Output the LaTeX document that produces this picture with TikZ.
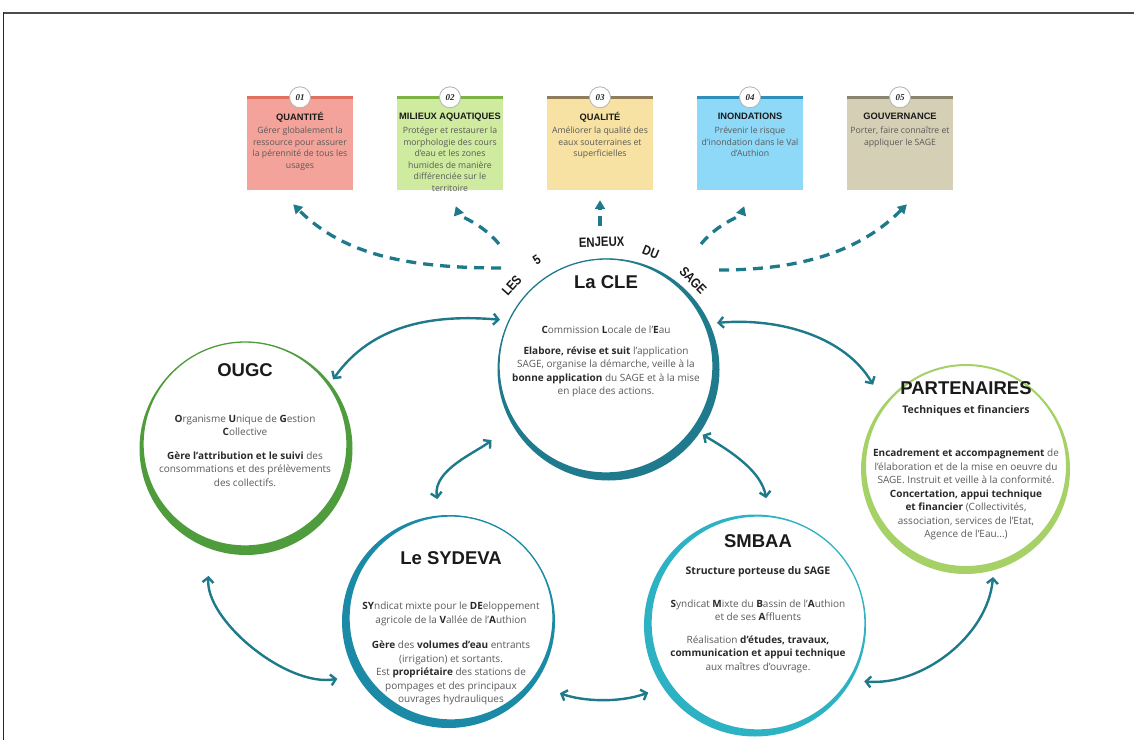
\documentclass[tikz,border=0pt]{standalone}
\usepackage{fontspec}
\setmainfont{Open Sans}
\newfontfamily\ttlfont{Liberation Sans}
\newfontfamily\numfont{Liberation Serif}
\usetikzlibrary{arrows.meta,calc}
\definecolor{clec}{HTML}{1E7A8C}
\definecolor{ougcc}{HTML}{4E9C3B}
\definecolor{partc}{HTML}{A6D167}
\definecolor{sydc}{HTML}{1B8AA6}
\definecolor{smbc}{HTML}{2DB2C4}
\definecolor{arrc}{HTML}{1E7A8A}
\definecolor{txtgray}{HTML}{5A5A5A}
\definecolor{txtdark}{HTML}{2A2A2A}
\definecolor{ttlc}{HTML}{1A1A1A}
\definecolor{q1f}{HTML}{F4A39A}\definecolor{q1s}{HTML}{E2705F}
\definecolor{q2f}{HTML}{CFEBA0}\definecolor{q2s}{HTML}{7CB342}
\definecolor{q3f}{HTML}{F7E2A3}\definecolor{q3s}{HTML}{8E7C5C}
\definecolor{q4f}{HTML}{8FD9F8}\definecolor{q4s}{HTML}{2F8FB8}
\definecolor{q5f}{HTML}{D5CFB5}\definecolor{q5s}{HTML}{8A836E}
\newcommand\bx[1]{{\bfseries\color{txtdark}#1}}
\begin{document}
\begin{tikzpicture}[x=1pt,y=1pt,
  qbox/.style={rectangle, inner sep=0, minimum width=106pt, minimum height=91pt},
  numc/.style={circle, draw=black!30, line width=0.8pt, fill=white, minimum size=21pt, inner sep=0, font=\numfont\bfseries\itshape\fontsize{9}{9}\selectfont, text=txtdark},
  boxttl/.style={inner sep=0, font=\ttlfont\bfseries\fontsize{9.3}{10}\selectfont, text=ttlc},
  boxtxt/.style={inner sep=0, align=center, font=\fontsize{8.7}{11.5}\selectfont, text=txtgray},
  ttl/.style={inner sep=0, font=\ttlfont\bfseries\fontsize{18.5}{20}\selectfont, text=ttlc},
  subttl/.style={inner sep=0, font=\bfseries\fontsize{10.5}{12}\selectfont, text=txtdark},
  bodytxt/.style={inner sep=0, align=center, font=\fontsize{10}{13.5}\selectfont, text=txtgray},
  arcw/.style={inner sep=0, font=\ttlfont\bfseries\fontsize{13.5}{13.5}\selectfont, text=ttlc},
  ring/.style={circle, fill=white, inner sep=0, line width=1.3pt},
  lnk/.style={draw=arrc, line width=2.4pt, {Straight Barb[length=5pt,width=11pt]}-{Straight Barb[length=5pt,width=11pt]}},
  dasharrow/.style={draw=arrc, line width=3.3pt, dash pattern=on 10pt off 7pt, -{Triangle[length=9pt,width=10pt]}}
]
\useasboundingbox (0,0) rectangle (1134,740);
\fill[white] (0,0) rectangle (1134,740);
\draw[black!70, line width=2pt] (3,727) -- (1134,727);
\draw[black!85, line width=0.8pt] (3,728) -- (3,0);

% ---------- top boxes ----------
\node[qbox, fill=q1f] (q1) at (300,595.5) {};
\fill[q1s] (q1.north west) rectangle ($(q1.north east)+(0,3)$);
\node[numc] (n1) at ($(q1.north)+(0,1.5)$) {01};
\node[boxttl] (t1) at ($(q1.north)+(0,-18)$) {QUANTITÉ};
\node[boxtxt, anchor=north] (b1) at ($(q1.north)+(0,-28)$) {Gérer globalement la\\ressource pour assurer\\la pérennité de tous les\\usages};

\node[qbox, fill=q2f] (q2) at (450,595.5) {};
\fill[q2s] (q2.north west) rectangle ($(q2.north east)+(0,3)$);
\node[numc] (n2) at ($(q2.north)+(0,1.5)$) {02};
\node[boxttl] (t2) at ($(q2.north)+(0,-18)$) {MILIEUX AQUATIQUES};
\node[boxtxt, anchor=north] (b2) at ($(q2.north)+(0,-28)$) {Protéger et restaurer la\\morphologie des cours\\d'eau et les zones\\humides de manière\\différenciée sur le\\territoire};

\node[qbox, fill=q3f] (q3) at (600,595.5) {};
\fill[q3s] (q3.north west) rectangle ($(q3.north east)+(0,3)$);
\node[numc] (n3) at ($(q3.north)+(0,1.5)$) {03};
\node[boxttl] (t3) at ($(q3.north)+(0,-18)$) {QUALITÉ};
\node[boxtxt, anchor=north] (b3) at ($(q3.north)+(0,-28)$) {Améliorer la qualité des\\eaux souterraines et\\superficielles};

\node[qbox, fill=q4f] (q4) at (750,595.5) {};
\fill[q4s] (q4.north west) rectangle ($(q4.north east)+(0,3)$);
\node[numc] (n4) at ($(q4.north)+(0,1.5)$) {04};
\node[boxttl] (t4) at ($(q4.north)+(0,-18)$) {INONDATIONS};
\node[boxtxt, anchor=north] (b4) at ($(q4.north)+(0,-28)$) {Prévenir le risque\\d'inondation dans le Val\\d'Authion};

\node[qbox, fill=q5f] (q5) at (900,595.5) {};
\fill[q5s] (q5.north west) rectangle ($(q5.north east)+(0,3)$);
\node[numc] (n5) at ($(q5.north)+(0,1.5)$) {05};
\node[boxttl] (t5) at ($(q5.north)+(0,-18)$) {GOUVERNANCE};
\node[boxtxt, anchor=north] (b5) at ($(q5.north)+(0,-28)$) {Porter, faire connaître et\\appliquer le SAGE};

% ---------- circles ----------
\fill[clec] (608.5,370.5) circle (111);
\node[ring, draw=clec, minimum size=214pt] (cle) at (606,374) {};

\fill[ougcc] (246,291.5) circle (106.5);
\node[ring, draw=ougcc, minimum size=204pt] (ougc) at (245,296) {};

\fill[partc] (965.5,270.5) circle (104.5);
\node[ring, draw=partc, line width=2pt, minimum size=202pt] (part) at (966,274) {};

\fill[sydc] (448.5,118.5) circle (106.5);
\node[ring, draw=sydc, minimum size=204pt] (sydeva) at (451,122) {};

\fill[smbc] (755,114.5) circle (111);
\node[ring, draw=smbc, minimum size=214pt] (smbaa) at (758,117) {};

% ---------- circle texts ----------
\node[ttl] (clet) at ($(cle.center)+(0,84)$) {La CLE};
\node[bodytxt] (cles) at ($(cle.center)+(0,36)$) {\bx{C}ommission \bx{L}ocale de l'\bx{E}au};
\node[bodytxt] (clep) at ($(cle.center)+(0,-6)$) {\bx{Elabore, révise et suit} l'application\\SAGE, organise la démarche, veille à la\\\bx{bonne application} du SAGE et à la mise\\en place des actions.};

\node[arcw, rotate=48, xscale=0.84] (w1) at ($(cle.center)+(139.5:124)$) {LES};
\node[arcw, rotate=33, xscale=0.84] (w2) at ($(cle.center)+(123:127)$) {5};
\node[arcw, rotate=2, xscale=0.84] (w3) at ($(cle.center)+(92:124)$) {ENJEUX};
\node[arcw, rotate=-22, xscale=0.84] (w4) at ($(cle.center)+(68.5:122)$) {DU};
\node[arcw, rotate=-46, xscale=0.84] (w5) at ($(cle.center)+(44.5:122)$) {SAGE};

\node[ttl] (ougct) at ($(ougc.center)+(0,74)$) {OUGC};
\node[bodytxt] (ougc1) at ($(ougc.center)+(0,19)$) {\bx{O}rganisme \bx{U}nique de \bx{G}estion\\\bx{C}ollective};
\node[bodytxt] (ougc2) at ($(ougc.center)+(0,-25)$) {\bx{Gère l'attribution et le suivi} des\\consommations et des prélèvements\\des collectifs.};

\node[ttl] (partt) at ($(part.center)+(0,78)$) {PARTENAIRES};
\node[subttl] (parts) at ($(part.center)+(0,55)$) {Techniques et financiers};
\node[bodytxt] (part1) at ($(part.center)+(0,-28.5)$) {\bx{Encadrement et accompagnement} de\\l'élaboration et de la mise en oeuvre du\\SAGE. Instruit et veille à la conformité.\\\bx{Concertation, appui technique}\\\bx{et financier} (Collectivités,\\association, services de l'Etat,\\Agence de l'Eau...)};

\node[ttl] (sydt) at ($(sydeva.center)+(0,60)$) {Le SYDEVA};
\node[bodytxt] (syd1) at ($(sydeva.center)+(0,4)$) {\bx{SY}ndicat mixte pour le \bx{DE}eloppement\\agricole de la \bx{V}allée de l'\bx{A}uthion};
\node[bodytxt] (syd2) at ($(sydeva.center)+(0,-55)$) {\bx{Gère} des \bx{volumes d'eau} entrants\\(irrigation) et sortants.\\Est \bx{propriétaire} des stations de\\pompages et des principaux\\ouvrages hydrauliques};

\node[ttl] (smbt) at ($(smbaa.center)+(0,82)$) {SMBAA};
\node[subttl] (smbs) at ($(smbaa.center)+(0,51)$) {Structure porteuse du SAGE};
\node[bodytxt] (smb1) at ($(smbaa.center)+(0,13)$) {\bx{S}yndicat \bx{M}ixte du \bx{B}assin de l'\bx{A}uthion\\et de ses \bx{A}ffluents};
\node[bodytxt] (smb2) at ($(smbaa.center)+(0,-31)$) {Réalisation \bx{d'études, travaux,}\\\bx{communication et appui technique}\\aux maîtres d'ouvrage.};

% ---------- solid links ----------
\draw[lnk, shorten <=7pt, shorten >=8.5pt] (ougc.35) to[out=55, in=175] (cle.155);
\draw[lnk, shorten <=12pt, shorten >=23pt] (cle.23.5) to[out=5, in=120] (part.143);
\draw[lnk, shorten <=29pt, shorten >=17pt] (cle.211) to[out=220, in=100] (sydeva.96);
\draw[lnk, shorten <=11pt, shorten >=18pt] (cle.-36) to[out=-30, in=100] (smbaa.84);
\draw[lnk, shorten <=35pt, shorten >=28pt] (ougc.251) to[out=-95, in=190] (sydeva.213);
\draw[lnk, shorten <=31pt, shorten >=23pt] (sydeva.-39) to[out=-20, in=200] (smbaa.215);
\draw[lnk, shorten <=15pt, shorten >=13pt] (smbaa.-32) to[out=-5, in=-95] (part.-74);

% ---------- dashed arrows ----------
\coordinate (d1s) at ($(cle.center)+(-105,98)$);
\coordinate (d2s) at ($(cle.center)+(-107,122)$);
\coordinate (d3s) at ($(cle.center)+(-6,140)$);
\coordinate (d4s) at ($(cle.center)+(95,122)$);
\coordinate (d5s) at ($(cle.center)+(113,96)$);
\draw[dasharrow, shorten >=20pt] (d1s) to[out=180, in=-45] ([xshift=-21pt]q1.south);
\draw[dasharrow, shorten >=17pt] (d2s) to[out=130, in=-70] (q2.south);
\draw[dasharrow, shorten >=10pt] (d3s) -- (q3.south);
\draw[dasharrow, shorten >=17pt] (d4s) to[out=50, in=-110] (q4.south);
\draw[dasharrow, shorten >=20pt] (d5s) to[out=0, in=-135] ([xshift=21pt]q5.south);
\end{tikzpicture}
\end{document}
